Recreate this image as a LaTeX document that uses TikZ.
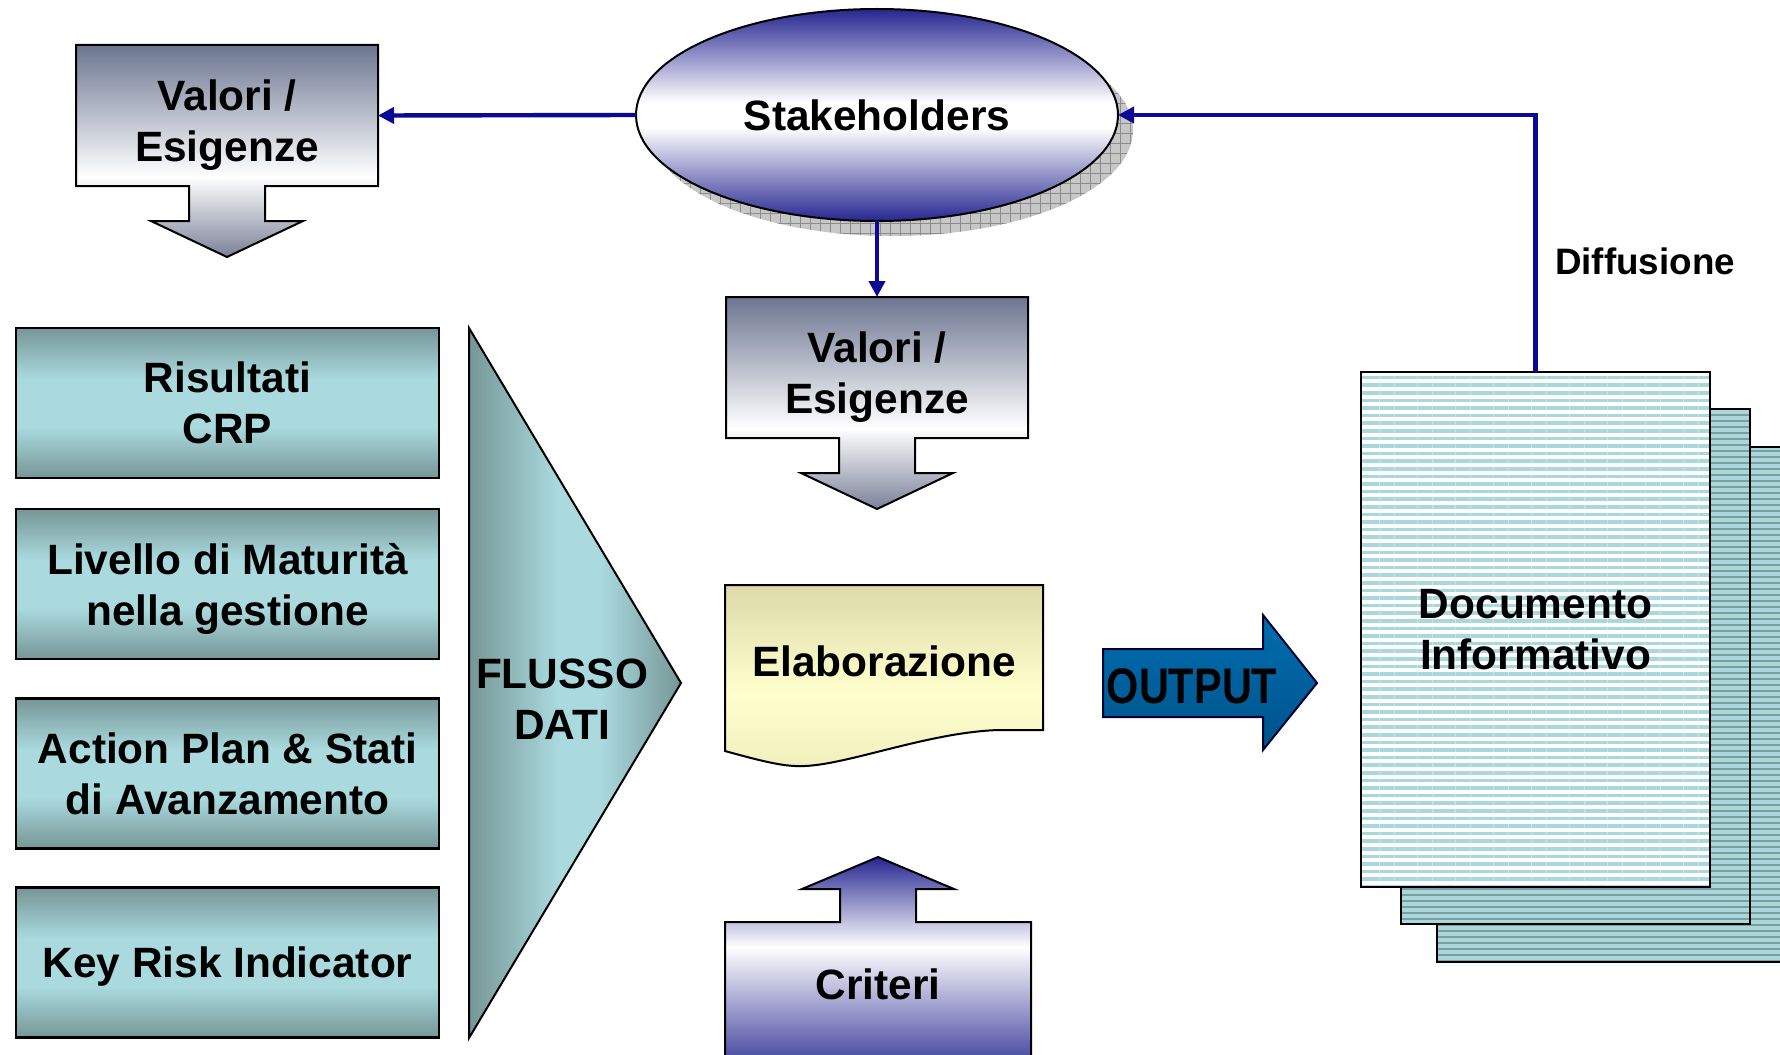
\documentclass[tikz,border=0pt]{standalone}
\usepackage{fontspec}
\setmainfont{Liberation Sans}
\usepackage{graphicx}
\usetikzlibrary{shapes.geometric,arrows.meta,patterns.meta,calc}

% palette
\definecolor{vgrey}{RGB}{108,118,145}
\definecolor{vgreyb}{RGB}{122,129,152}
\definecolor{sblue}{RGB}{38,38,145}
\definecolor{linkblue}{RGB}{10,10,150}
\definecolor{tdark}{RGB}{118,150,150}
\definecolor{tlight}{RGB}{170,218,222}
\definecolor{khaki}{RGB}{222,218,170}
\definecolor{lyellow}{RGB}{255,255,205}
\definecolor{outblue}{RGB}{0,110,176}
\definecolor{outdark}{RGB}{0,82,138}
\definecolor{stripe}{RGB}{168,216,220}
\definecolor{pageback}{RGB}{126,158,158}

% gradients (the middle 25bp..75bp span fills the path)
\pgfdeclareverticalshading{valshade}{100bp}{color(0bp)=(vgreyb); color(25bp)=(vgreyb); color(44bp)=(white); color(75bp)=(vgrey); color(100bp)=(vgrey)}
\pgfdeclareverticalshading{critshade}{100bp}{color(0bp)=(sblue); color(25bp)=(sblue); color(55bp)=(white); color(75bp)=(sblue); color(100bp)=(sblue)}
\pgfdeclareverticalshading{ellshade}{100bp}{color(0bp)=(sblue); color(25bp)=(sblue); color(47bp)=(white); color(53bp)=(white); color(75bp)=(sblue); color(100bp)=(sblue)}
\pgfdeclareverticalshading{tealv}{100bp}{color(0bp)=(tdark); color(25bp)=(tdark); color(42bp)=(tlight); color(58bp)=(tlight); color(75bp)=(tdark); color(100bp)=(tdark)}
\pgfdeclarehorizontalshading{tealh}{100bp}{color(0bp)=(tdark); color(25bp)=(tdark); color(46bp)=(tlight); color(56bp)=(tlight); color(75bp)=(tdark); color(100bp)=(tdark)}
\pgfdeclareverticalshading{elabshade}{100bp}{color(0bp)=(khaki!45!lyellow); color(25bp)=(khaki!45!lyellow); color(45bp)=(lyellow); color(75bp)=(khaki); color(100bp)=(khaki)}

\pgfdeclarelayer{shapes}
\pgfsetlayers{shapes,main}

\newcommand{\dgfont}{\fontsize{21.2}{25.5}\selectfont\bfseries}

% box with a downward arrow below it; the text node sits 5 units below the box centre
\newcommand{\valshape}[1]{%
  \path[shading=valshade, draw=black, line width=1pt]
    ($(#1.north west)+(0,-5)$) -- ($(#1.north east)+(0,-5)$) -- ($(#1.south east)+(0,-5)$)
    -- ($(#1.south)+(38,-5)$) -- ($(#1.south)+(38,30)$) -- ($(#1.south)+(76,30)$)
    -- ($(#1.south)+(0,66)$)
    -- ($(#1.south)+(-76,30)$) -- ($(#1.south)+(-38,30)$) -- ($(#1.south)+(-38,-5)$)
    -- ($(#1.south west)+(0,-5)$) -- cycle;}

\tikzset{
  every node/.style={inner sep=0pt, outer sep=0pt, align=center, text depth=0pt, font=\dgfont},
  valbox/.style={minimum width=151pt, minimum height=70.5pt},
  tealbox/.style={minimum width=211.5pt, minimum height=75pt, shading=tealv, draw=black, line width=1.1pt},
  link/.style={draw=linkblue, line width=2.2pt, -{Triangle[length=8pt,width=8pt]}},
  page/.style={preaction={fill=pageback}, pattern={Lines[angle=0,distance=3pt,line width=1.8pt]}, pattern color=stripe, draw=black, line width=1pt}
}

\begin{document}
\begin{tikzpicture}[x=0.5pt, y=-0.5pt]
\useasboundingbox (0,0) rectangle (1780,1054);
\clip (0,0) rectangle (1780,1054);

% ---- nodes ----
\node[shape=ellipse, minimum width=241pt, minimum height=106pt, shading=ellshade, draw=black, line width=1pt] (stake) at (877,115) {Stakeholders};

\node[valbox] (val1) at (227,120.5) {Valori /\\Esigenze};
\node[valbox] (val2) at (877,372.5) {Valori /\\Esigenze};

\node[tealbox] (res) at (227.5,403)   {Risultati\\CRP};
\node[tealbox] (liv) at (227.5,584)   {Livello di Maturità\\nella gestione};
\node[tealbox] (act) at (227.5,773.5) {Action Plan \& Stati\\di Avanzamento};
\node[tealbox] (kri) at (227.5,962.5) {Key Risk Indicator};

\node (flux) at (562,699) {FLUSSO\\DATI};

\node[minimum width=159pt, minimum height=76pt] (elab) at (884,661) {Elaborazione};

\node (outtxt) at (1192,686) {\fontsize{25}{30}\selectfont\scalebox{0.83}[1]{OUTPUT}};

\node[minimum width=174.5pt, minimum height=257.5pt] (doc) at (1535.5,629.5) {Documento\\Informativo};

\node[minimum width=153pt, minimum height=62pt] (crit) at (878,984) {Criteri};

\node[font=\fontsize{18.4}{22}\selectfont\bfseries] (diff) at (1645,261) {Diffusione};

% ---- shapes behind the text ----
\begin{pgfonlayer}{shapes}
  \fill[white] (0,0) rectangle (1780,1054);

  % shadow of the stakeholders ellipse
  \path[preaction={fill=black!22}, pattern={Hatch[angle=0,distance=5pt,line width=0.5pt]}, pattern color=black!45]
    ($(stake.center)+(15,15)$) ellipse [x radius=120.5pt, y radius=53pt];

  \valshape{val1}
  \valshape{val2}

  % data-flow chevron
  \path[shading=tealh, draw=black, line width=1pt]
    (469,328) -- (681,683) -- (469,1038) -- cycle;

  % processing (document symbol)
  \path[shading=elabshade, draw=black, line width=1pt]
    (elab.north west) -- (elab.north east) -- ($(elab.north east)+(0,145)$)
    -- ($(elab.north west)+(274,145)$)
    .. controls ($(elab.north west)+(205,147)$) and ($(elab.north west)+(125,179)$) .. ($(elab.north west)+(80,181)$)
    .. controls ($(elab.north west)+(60,182)$) and ($(elab.north west)+(40,177)$) .. ($(elab.north west)+(0,166)$)
    -- cycle;

  % output arrow
  \path[top color=outblue, bottom color=outdark, draw=black!80!blue, line width=1pt]
    (1103,649) -- (1263,649) -- (1263,615) -- (1317,683) -- (1263,750) -- (1263,717) -- (1103,717) -- cycle;

  % stacked report pages
  \path[page] ($(doc.north west)+(76,75)$) rectangle ($(doc.south east)+(76,75)$);
  \path[page] ($(doc.north west)+(40,37)$) rectangle ($(doc.south east)+(40,37)$);
  \path[preaction={fill=white}, pattern={Lines[angle=0,distance=3.8pt,line width=1.8pt]}, pattern color=stripe, draw=black, line width=1pt]
    (doc.north west) rectangle (doc.south east);

  % criteria box with upward arrow
  \path[shading=critshade, draw=black, line width=1pt]
    (crit.north west) -- ($(crit.north)+(-38,0)$) -- ($(crit.north)+(-38,-33)$) -- ($(crit.north)+(-76,-33)$)
    -- ($(crit.north)+(0,-65)$)
    -- ($(crit.north)+(76,-33)$) -- ($(crit.north)+(38,-33)$) -- ($(crit.north)+(38,0)$)
    -- (crit.north east) -- ($(crit.north east)+(0,160)$) -- ($(crit.north west)+(0,160)$) -- cycle;
\end{pgfonlayer}

% ---- connectors ----
\draw[link] (stake.west) -- ($(val1.east)+(0,-5)$);
\draw[link] (stake.south) -- ($(val2.north)+(0,-5)$);
\draw[link] (doc.north) |- (stake.east);
\end{tikzpicture}
\end{document}
